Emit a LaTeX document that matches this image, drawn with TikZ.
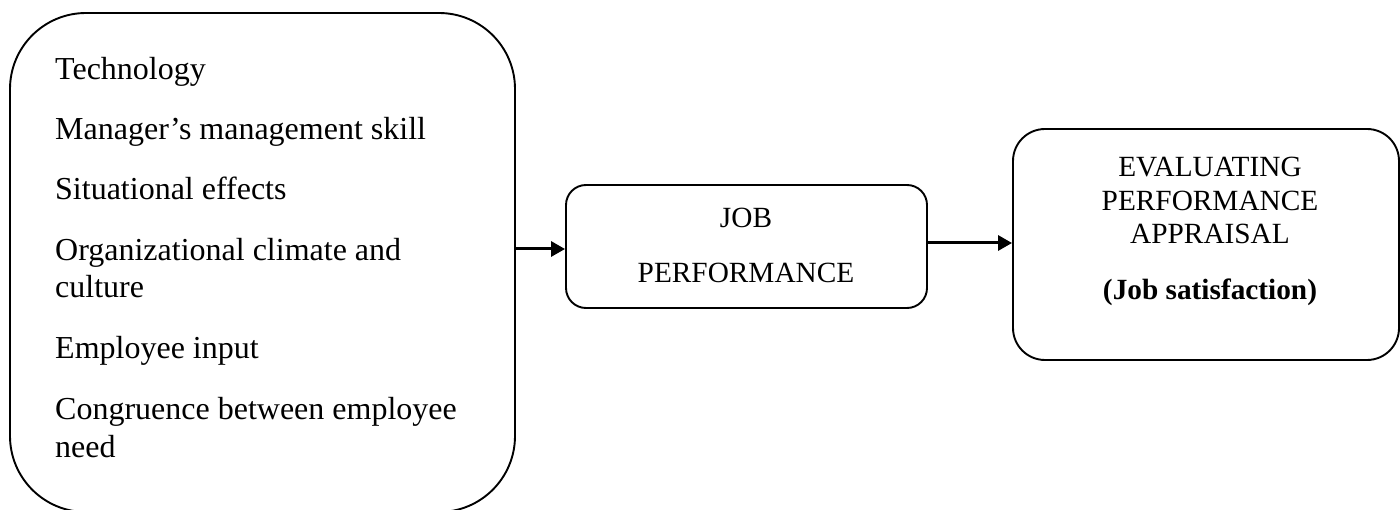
\documentclass[tikz,border=0pt]{standalone}
\usepackage{fontspec}
\setmainfont{Liberation Serif}
\usetikzlibrary{arrows.meta}
\begin{document}
\begin{tikzpicture}[x=1pt,y=-1pt,
  roundbox/.style={draw=black,line width=1.9pt,rectangle,inner sep=0pt},
  lefttext/.style={anchor=base west,inner sep=0pt,font=\fontsize{32}{37}\selectfont},
  ctext/.style={anchor=base,inner sep=0pt,font=\fontsize{29.3}{34}\selectfont},
  conn/.style={line width=3pt,-{Triangle[length=14pt,width=15pt]}}]
\useasboundingbox (0,0) rectangle (1400,510);
\clip (0,0) rectangle (1400,510);
% boxes
\node[roundbox,rounded corners=76pt,minimum width=505pt,minimum height=499pt] (left) at (262.5,262.5) {};
\node[roundbox,rounded corners=20pt,minimum width=361pt,minimum height=123pt] (mid) at (746.5,246.5) {};
\node[roundbox,rounded corners=32pt,minimum width=386pt,minimum height=231pt] (right) at (1206,244.5) {};
% left texts
\node[lefttext] (t1) at (55,80) {Technology};
\node[lefttext] (t2) at (55,140) {Manager’s management skill};
\node[lefttext] (t3) at (55,200) {Situational effects};
\node[lefttext] (t4) at (55,261) {Organizational climate and};
\node[lefttext] (t5) at (55,298) {culture};
\node[lefttext] (t6) at (55,359) {Employee input};
\node[lefttext] (t7) at (55,420) {Congruence between employee};
\node[lefttext] (t8) at (55,457) {need};
% middle texts
\node[ctext] (m1) at (746,228) {JOB};
\node[ctext] (m2) at (746,283) {PERFORMANCE};
% right texts
\node[ctext] (r1) at (1210,177) {EVALUATING};
\node[ctext] (r2) at (1210,211) {PERFORMANCE};
\node[ctext] (r3) at (1210,244) {APPRAISAL};
\node[ctext,font=\fontsize{29.3}{34}\selectfont\bfseries] (r4) at (1210,300) {(Job satisfaction)};
% connectors
\coordinate (y1) at (0,249);
\coordinate (y2) at (0,243);
\draw[conn] (left.east |- y1) -- (mid.west |- y1);
\draw[conn] (mid.east |- y2) -- (right.west |- y2);
\end{tikzpicture}
\end{document}
